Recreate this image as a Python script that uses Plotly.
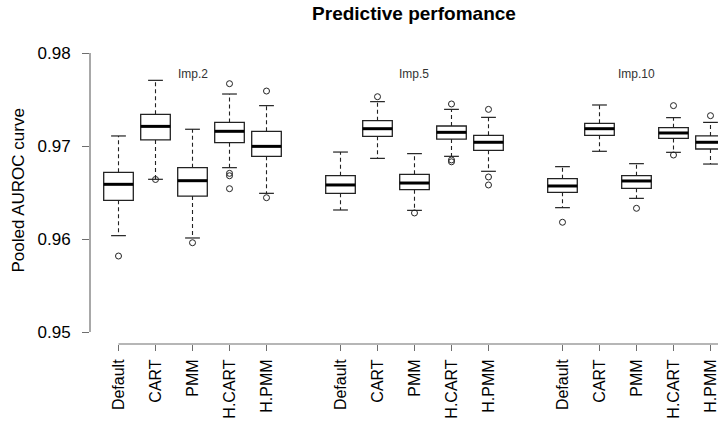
import plotly.graph_objects as go

methods = ["Default", "CART", "PMM", "H.CART", "H.PMM"]
groups = ["Imp.2", "Imp.5", "Imp.10"]
positions = [1, 2, 3, 4, 5, 7, 8, 9, 10, 11, 13, 14, 15, 16, 17]
tick_labels = methods * 3

upper_whisker = [0.97108, 0.97706, 0.97180, 0.97559, 0.97434,
                 0.96935, 0.97477, 0.96918, 0.97394, 0.97308,
                 0.96778, 0.97441, 0.96810, 0.97305, 0.97254]
q3 = [0.96717, 0.97341, 0.96767, 0.97254, 0.97158,
      0.96681, 0.97272, 0.96695, 0.97215, 0.97115,
      0.96649, 0.97244, 0.96681, 0.97197, 0.97108]
median = [0.96588, 0.97211, 0.96627, 0.97158, 0.96996,
          0.96581, 0.97186, 0.96602, 0.97147, 0.97040,
          0.96570, 0.97186, 0.96624, 0.97140, 0.97040]
q1 = [0.96416, 0.97065, 0.96462, 0.97036, 0.96889,
      0.96491, 0.97104, 0.96530, 0.97075, 0.96953,
      0.96502, 0.97115, 0.96545, 0.97082, 0.96968]
lower_whisker = [0.96036, 0.96642, 0.96011, 0.96767, 0.96491,
                 0.96312, 0.96867, 0.96308, 0.96889, 0.96728,
                 0.96337, 0.96943, 0.96437, 0.96932, 0.96806]
outliers = [[0.95817], [0.96640], [0.95960], [0.97670, 0.96706, 0.96680, 0.96541], [0.97591, 0.96444],
            [], [0.97530], [0.96280], [0.97452, 0.96850, 0.96830], [0.97394, 0.96667, 0.96581],
            [0.96180], [], [0.96330], [0.97434, 0.96903], [0.97326]]
group_label_pos = [3, 9, 15]
group_label_y = 0.97774

y_ticks = [0.95, 0.96, 0.97, 0.98]

BOXW = 0.8
CAP = 0.2
LINE = "#222222"
AXC = "#6e6e6e"

fig = go.Figure()

# boxes
fig.add_trace(go.Box(
    x=positions, q1=q1, median=median, q3=q3,
    lowerfence=q1, upperfence=q3,
    width=BOXW, fillcolor="white", whiskerwidth=0,
    line=dict(color=LINE, width=1.3), boxpoints=False,
    showlegend=False, hoverinfo="skip"))

# whiskers (dashed)
wx, wy = [], []
for p, lo, a, b, hi in zip(positions, lower_whisker, q1, q3, upper_whisker):
    wx += [p, p, None, p, p, None]
    wy += [b, hi, None, a, lo, None]
fig.add_trace(go.Scatter(x=wx, y=wy, mode="lines",
                         line=dict(color=LINE, width=1.1, dash="4px,3px"),
                         showlegend=False, hoverinfo="skip"))

# staples
cx, cy = [], []
for p, lo, hi in zip(positions, lower_whisker, upper_whisker):
    cx += [p - CAP, p + CAP, None, p - CAP, p + CAP, None]
    cy += [hi, hi, None, lo, lo, None]
fig.add_trace(go.Scatter(x=cx, y=cy, mode="lines",
                         line=dict(color=LINE, width=1.2),
                         showlegend=False, hoverinfo="skip"))

# medians (thick)
mx, my = [], []
for p, m in zip(positions, median):
    mx += [p - BOXW / 2, p + BOXW / 2, None]
    my += [m, m, None]
fig.add_trace(go.Scatter(x=mx, y=my, mode="lines",
                         line=dict(color="black", width=3),
                         showlegend=False, hoverinfo="skip"))

# outliers
ox, oy = [], []
for p, outs in zip(positions, outliers):
    for v in outs:
        ox.append(p)
        oy.append(v)
fig.add_trace(go.Scatter(x=ox, y=oy, mode="markers",
                         marker=dict(symbol="circle-open", size=6, color=LINE,
                                     line=dict(width=1)),
                         showlegend=False, hoverinfo="skip"))

# group labels
for g, p in zip(groups, group_label_pos):
    fig.add_annotation(x=p, y=group_label_y, xref="x", yref="y", text=g,
                       showarrow=False, font=dict(size=12, color="#333333"))

# axis lines limited to data extent (R style)
fig.add_shape(type="line", xref="paper", yref="y", x0=0, x1=0,
              y0=min(y_ticks), y1=max(y_ticks), line=dict(color=AXC, width=1.2))
fig.add_shape(type="line", xref="x", yref="paper", x0=min(positions), x1=max(positions) + 0.3,
              y0=0, y1=0, line=dict(color=AXC, width=1.2))

fig.update_layout(
    width=718, height=423,
    margin=dict(l=90, r=0, t=40, b=79),
    paper_bgcolor="white", plot_bgcolor="white",
    font=dict(family="Liberation Sans, Arial, sans-serif", color="black"),
    title=dict(text="<b>Predictive perfomance</b>", xref="container", yref="container",
               x=0.5766, y=0.969, xanchor="center", yanchor="middle",
               font=dict(size=19, color="black")),
    xaxis=dict(range=[0.2297, 17.203], showgrid=False, zeroline=False, showline=False,
               tickmode="array", tickvals=positions, ticktext=tick_labels,
               tickangle=-90, ticks="outside", ticklen=6, tickcolor=AXC, tickwidth=1.2,
               tickfont=dict(size=16, color="black"), automargin=False,
               ticklabeloverflow="allow", ticklabelstandoff=2),
    yaxis=dict(range=[0.948710, 0.981398], showgrid=False, zeroline=False, showline=False,
               tickmode="array", tickvals=y_ticks, ticktext=["0.95", "0.96", "0.97", "0.98"],
               ticks="outside", ticklen=7, tickcolor=AXC, tickwidth=1.2,
               tickfont=dict(size=17, color="black"), automargin=False,
               ticklabelstandoff=8),
)

fig.add_annotation(text="Pooled AUROC curve", textangle=-90, xref="paper", yref="paper",
                   x=(18 - 90) / 628, y=(344 - 190.5) / 304, xanchor="center", yanchor="middle",
                   showarrow=False, font=dict(size=17, color="black"))

fig.write_html("out.html", config={"displayModeBar": False},
               post_script="document.body.style.margin='0px';document.body.style.overflow='hidden';")
